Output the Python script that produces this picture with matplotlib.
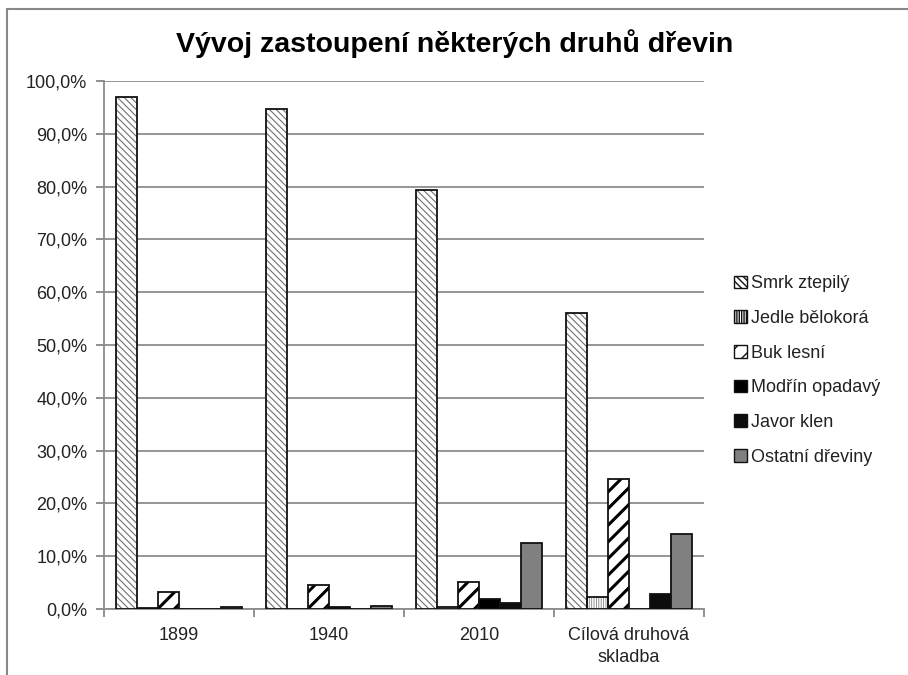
import matplotlib
matplotlib.use("Agg")
import matplotlib.pyplot as plt
from matplotlib.patches import Rectangle, Patch
from matplotlib.ticker import FuncFormatter, MultipleLocator
import numpy as np

categories = ["1899", "1940", "2010", "Cílová druhová\nskladba"]
series_names = ["Smrk ztepilý", "Jedle bělokorá", "Buk lesní", "Modřín opadavý", "Javor klen", "Ostatní dřeviny"]
smrk = [97.0, 94.7, 79.3, 56.0]
jedle = [0.2, 0.0, 0.3, 2.3]
buk = [3.2, 4.6, 5.2, 24.7]
modrin = [0.0, 0.4, 1.8, 0.0]
javor = [0.0, 0.0, 1.2, 2.9]
ostatni = [0.3, 0.5, 12.5, 14.2]
yticks = [0, 10, 20, 30, 40, 50, 60, 70, 80, 90, 100]

series = [smrk, jedle, buk, modrin, javor, ostatni]
styles = [
    dict(face="white", hatch="\\\\\\\\\\", hcol="#707070", hlw=0.8),
    dict(face="white", hatch="|||||||", hcol="#808080", hlw=0.6),
    dict(face="white", hatch="//", hcol="black", hlw=2.2),
    dict(face="black", hatch=None, hcol="black", hlw=1),
    dict(face="#0d0d0d", hatch=None, hcol="black", hlw=1),
    dict(face="#808080", hatch=None, hcol="black", hlw=1),
]

plt.rcParams['font.family'] = ['Liberation Sans', 'DejaVu Sans']
fig = plt.figure(figsize=(9.08, 6.75), dpi=100)
ax = fig.add_axes([104/908, (675-609)/675, 600/908, 528/675])

x = np.arange(len(categories))
bw = 0.14
for i, (vals, st) in enumerate(zip(series, styles)):
    pos = x - 3*bw + bw/2 + i*bw
    if st["hatch"]:
        with plt.rc_context({'hatch.linewidth': st["hlw"], 'hatch.color': st["hcol"]}):
            bars = ax.bar(pos, vals, bw, color=st["face"], edgecolor=st["hcol"],
                          linewidth=0, hatch=st["hatch"], zorder=3)
            for b in bars:
                try:
                    b.set_hatch_linewidth(st["hlw"])
                except Exception:
                    pass
    ax.bar(pos, vals, bw, facecolor=st["face"] if not st["hatch"] else "none",
           edgecolor="#111111", linewidth=1.3, zorder=4)

ax.set_xlim(-0.5, 3.5)
ax.set_ylim(0, 100)
ax.set_yticks(yticks)
ax.yaxis.set_major_formatter(FuncFormatter(lambda v, p: f"{v:.1f}%".replace(".", ",")))
ax.set_xticks(x)
ax.set_xticklabels(categories)
ax.set_xticks(np.arange(-0.5, 4.0, 1.0), minor=True)
ax.tick_params(axis='x', which='major', length=0, pad=13, labelsize=13, colors="#222222")
ax.tick_params(axis='x', which='minor', length=6, width=1.3, color="#888888", direction='out')
ax.tick_params(axis='y', length=6, width=1.3, color="#888888", labelsize=13, labelcolor="#222222", pad=6)
for lbl in ax.get_xticklabels():
    lbl.set_linespacing(1.35)
ax.grid(axis='y', color="#8c8c8c", linewidth=1.3, zorder=0)
ax.set_axisbelow(True)
for s in ["top", "right"]:
    ax.spines[s].set_visible(False)
for s in ["left", "bottom"]:
    ax.spines[s].set_color("#8c8c8c")
    ax.spines[s].set_linewidth(1.3)

fig.text(455/908, 1 - 44/675, "Vývoj zastoupení některých druhů dřevin",
         ha="center", va="center", fontsize=20.5, fontweight="bold",
         family=['Liberation Sans', 'DejaVu Sans'])

handles = []
for st in styles:
    handles.append(Patch(facecolor=st["face"], edgecolor="#111111", linewidth=1.0,
                         hatch=st["hatch"]))
leg = fig.legend(handles, series_names, loc="upper left",
                 bbox_to_anchor=(727/908, 1 - 268/675), frameon=False,
                 fontsize=13, handlelength=0.7, handleheight=0.7,
                 handletextpad=0.25, labelspacing=0.98, borderaxespad=0)
for t in leg.get_texts():
    t.set_color("#222222")

fig.add_artist(Rectangle((7/908, -0.1), 1.2, 1 + 0.1 - 9/675, transform=fig.transFigure,
                         fill=False, edgecolor="#888888", linewidth=1.5))

fig.savefig("out.png", dpi=100)
